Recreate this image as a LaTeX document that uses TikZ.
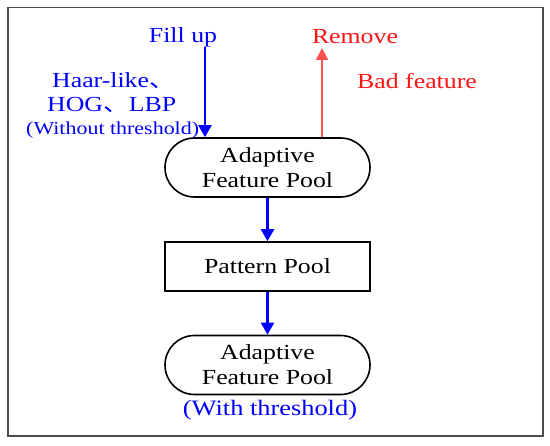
\documentclass[tikz,border=0pt]{standalone}
\usepackage{fontspec}
\setmainfont{Liberation Serif}[FakeStretch=1.2]
\newfontfamily\cjkf{Noto Sans CJK SC}[FakeStretch=1.2]
\usetikzlibrary{arrows.meta}
\definecolor{myblue}{RGB}{0,0,255}
\definecolor{myred}{RGB}{255,20,20}
\definecolor{arrred}{RGB}{255,80,80}
\tikzset{
  poolbox/.style={draw=black, line width=1.6pt, rounded corners=29.5pt, minimum width=205pt, minimum height=59pt, align=center, inner sep=0pt, font=\fontsize{21.5}{25}\selectfont},
  patbox/.style={draw=black, line width=1.6pt, minimum width=205pt, minimum height=49pt, align=center, inner sep=0pt, font=\fontsize{21.5}{25}\selectfont},
  bluearr/.style={draw=myblue, line width=2.2pt, -{Triangle[length=12pt,width=13pt]}},
  redarr/.style={draw=arrred, line width=1.8pt, -{Triangle[length=12pt,width=12pt]}},
  lbl/.style={inner sep=0pt, font=\fontsize{21.5}{25}\selectfont},
}
\begin{document}
\begin{tikzpicture}[x=1pt,y=-1pt]
\useasboundingbox (0,0) rectangle (550,446);
\draw[draw=black!70, line width=1.2pt] (8,7.7) rectangle (543,436);
\node[poolbox] (p1) at (267.5,167.5) {Adaptive\\Feature Pool};
\node[patbox] (pp) at (267.5,266.5) {Pattern Pool};
\node[poolbox] (p2) at (267.5,365) {Adaptive\\Feature Pool};
\node[lbl, text=myblue, font=\fontsize{22}{25}\selectfont] (wt) at (270,410) {(With threshold)};
\node[lbl, text=myblue] (fill) at (183,37) {Fill up};
\node[lbl, text=myred] (rem) at (355,37) {Remove};
\node[lbl, text=myred] (bad) at (417,81) {Bad feature};
\node[lbl, text=myblue, anchor=west] (haar) at (52,81) {Haar-like{\cjkf 、}};
\node[lbl, text=myblue, anchor=west] (hog) at (47,105) {HOG{\cjkf 、}LBP};
\node[lbl, text=myblue, anchor=west, font=\fontsize{18.3}{20}\selectfont] (wo) at (26,130) {(Without threshold)};
\coordinate (fs) at (205,47);
\coordinate (rt) at (322,48);
\draw[bluearr] (fs) -- (fs |- p1.north);
\draw[redarr] (rt |- p1.north) -- (rt);
\draw[bluearr] (p1.south) -- (pp.north);
\draw[bluearr] (pp.south) -- (p2.north);
\end{tikzpicture}
\end{document}
